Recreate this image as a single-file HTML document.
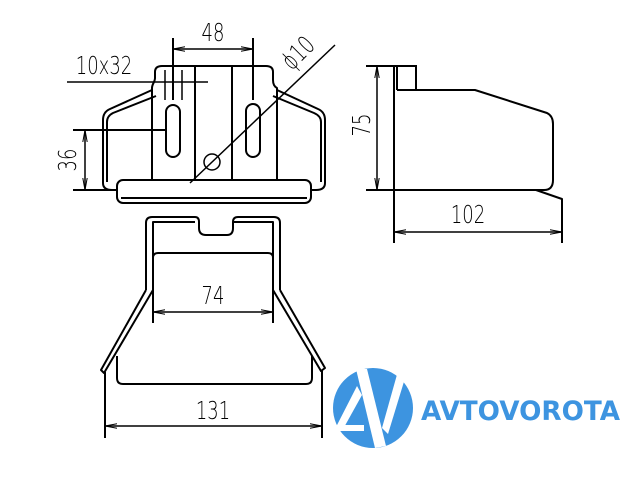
<!DOCTYPE html>
<html><head><style>html,body{margin:0;padding:0;background:#fff}svg{display:block}</style></head><body>
<svg width="640" height="480" viewBox="0 0 640 480" xmlns="http://www.w3.org/2000/svg">
<defs><marker id="a" markerWidth="12" markerHeight="6" refX="12" refY="3" orient="auto-start-reverse" markerUnits="userSpaceOnUse"><path d="M0,0.8 L12,3 L0,5.2" fill="none" stroke="#000" stroke-width="1"/></marker></defs>
<g fill="none" stroke="#000" stroke-width="2" stroke-linejoin="round">
<path d="M152,180 V88 C152,84 155,82 155,78 V72 Q155,66 162,66 H266 Q273,66 273,72 V80 Q273,86 277,88 V180"/>
<line x1="195" y1="66" x2="195" y2="180"/><line x1="232" y1="66" x2="232" y2="180"/>
<path d="M152,90 L110,109 Q103,112 103,120 V183 Q103,190 112,190 H118"/>
<path d="M156,96 L113,113 Q107,116 107,122 V182"/>
<path d="M277,90 L318,109 Q325,112 325,120 V183 Q325,190 316,190 H310"/>
<path d="M273,96 L314,113 Q321,116 321,122 V182"/>
<rect x="117" y="180" width="194" height="23" rx="6"/>
<path d="M121,198 H307"/>
<rect x="166" y="105" width="14" height="52" rx="7"/>
<rect x="246" y="104" width="14" height="53" rx="7"/>
<line x1="165" y1="70" x2="165" y2="100" stroke-width="1.5"/><line x1="182" y1="70" x2="182" y2="100" stroke-width="1.5"/>
<path d="M146,290 V223 Q146,217 152,217 H195 Q199,217 199,222 V228 Q199,235 206,235 H227 Q233,235 233,228 V222 Q233,217 238,217 H274 Q280,217 280,223 V290"/>
<path d="M153,290 V222 H195 M233,222 H273 V290"/>
<path d="M153,323 V258 Q153,253 158,253 H268 Q273,253 273,258 V323"/>
<path d="M146,290 L101,370 L104,373 L153,290"/>
<path d="M280,290 L325,368 L321,371 L273,290"/>
<path d="M117,356 V378 Q117,384 123,384 H306 Q312,384 312,378 V356"/>
<line x1="394" y1="66" x2="394" y2="243"/>
<path d="M397,90 V66 H416 V90"/>
<path d="M397,90 H475 L547,113 Q553,116 553,124 V180 Q553,190 544,190 H394"/>
<path d="M536,190 L562,199 V243"/>
</g>
<g stroke="#000" stroke-width="1.5" fill="none">
<line x1="173" y1="38" x2="173" y2="100" stroke-width="2"/><line x1="253" y1="38" x2="253" y2="100" stroke-width="2"/>
<line x1="173" y1="49" x2="253" y2="49" marker-start="url(#a)" marker-end="url(#a)"/>
<line x1="67" y1="82" x2="208" y2="82"/>
<line x1="73" y1="130" x2="165" y2="130" stroke-width="2"/><line x1="73" y1="190" x2="117" y2="190" stroke-width="2"/>
<line x1="85" y1="130" x2="85" y2="190" marker-start="url(#a)" marker-end="url(#a)"/>
<circle cx="212" cy="162" r="8"/>
<line x1="190" y1="183" x2="335" y2="45"/>
<line x1="153" y1="312" x2="273" y2="312" marker-start="url(#a)" marker-end="url(#a)"/>
<line x1="105" y1="372" x2="105" y2="438" stroke-width="2"/><line x1="322" y1="370" x2="322" y2="438" stroke-width="2"/>
<line x1="105" y1="426" x2="322" y2="426" marker-start="url(#a)" marker-end="url(#a)"/>
<line x1="366" y1="66" x2="417" y2="66" stroke-width="2"/><line x1="366" y1="190" x2="395" y2="190" stroke-width="2"/>
<line x1="377" y1="66" x2="377" y2="190" marker-start="url(#a)" marker-end="url(#a)"/>
<line x1="394" y1="232" x2="562" y2="232" marker-start="url(#a)" marker-end="url(#a)"/>
</g>
<g font-family="DejaVu Sans, sans-serif" font-weight="200" font-size="25" fill="#000" text-anchor="middle">
<text transform="translate(213,41) scale(0.72,1)">48</text>
<text transform="translate(104,74) scale(0.72,1)">10x32</text>
<text transform="translate(213,304) scale(0.72,1)">74</text>
<text transform="translate(213,419) scale(0.72,1)">131</text>
<text transform="translate(468,223) scale(0.72,1)">102</text>
<text transform="translate(76,160) rotate(-90) scale(0.72,1)">36</text>
<text transform="translate(370,125) rotate(-90) scale(0.72,1)">75</text>
<text transform="translate(304,59) rotate(-45) scale(0.72,1)">ϕ10</text>
</g>
<circle cx="373" cy="408" r="40" fill="#3d94e0"/>
<g fill="#fff">
<polygon points="356,369 367,369 386,446 375,448"/>
<polygon points="357,386 362,395 342,431 335,429"/>
<polygon points="338,425 364,425 364,431 336,431"/>
<polygon points="398,371 406,375 388,434 382,428"/>
</g>
<text x="421" y="420" font-family="DejaVu Sans, sans-serif" font-weight="bold" font-size="27" fill="#3d94e0" textLength="199" lengthAdjust="spacingAndGlyphs">AVTOVOROTA</text>
</svg>
</body></html>
